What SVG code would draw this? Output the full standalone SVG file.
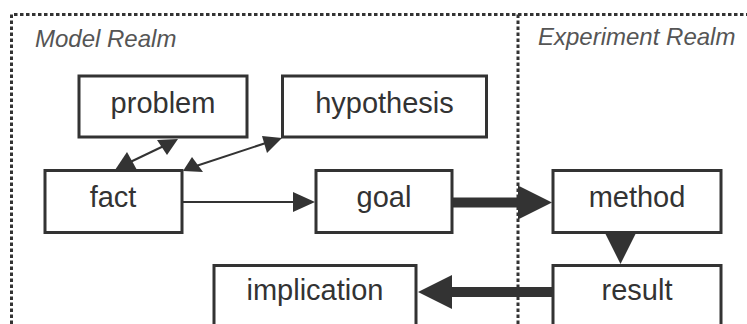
<svg xmlns="http://www.w3.org/2000/svg" width="747" height="324" viewBox="0 0 747 324">
<style>
.box{fill:#fff;stroke:#333;stroke-width:3}
.lbl{font-family:"Liberation Sans",Arial,sans-serif;font-size:29px;fill:#333;text-anchor:middle}
.realm{font-family:"Liberation Sans",Arial,sans-serif;font-size:24px;font-style:italic;fill:#555}
.div{stroke:#333;stroke-width:3;stroke-dasharray:3.5 2.5;fill:none}
.thin{stroke:#333;stroke-width:2;fill:none}
.thick{stroke:#333;stroke-width:10;fill:none}
.head{fill:#333}
</style>
<rect width="747" height="324" fill="#fff"/>
<g id="realms">
<path class="div" d="M11.5 324 V14.5 H747"/>
<path class="div" d="M518 14.5 V324"/>
<text class="realm" x="35" y="47">Model Realm</text>
<text class="realm" x="538" y="45">Experiment Realm</text>
</g>
<g id="connectors">
<line class="thin" x1="124" y1="165" x2="170" y2="143"/>
<polygon class="head" points="115,170 137,170 127,152"/>
<polygon class="head" points="178,139 157,140 167,155"/>
<line class="thin" x1="190" y1="168" x2="275" y2="140"/>
<polygon class="head" points="183,171 192,157 203,172"/>
<polygon class="head" points="282,138 262,136 267,153"/>
<line class="thin" x1="182" y1="202" x2="300" y2="202"/>
<polygon class="head" points="315,202 293,192 293,212"/>
<line class="thick" x1="452" y1="202.5" x2="522" y2="202.5"/>
<polygon class="head" points="552,202.5 518,185.5 518,219.5"/>
<polygon class="head" points="605,233 636,233 620.5,264"/>
<line class="thick" x1="553" y1="292" x2="448" y2="292"/>
<polygon class="head" points="418,292 452,275 452,309"/>
</g>
<g id="problem"><rect class="box" x="79" y="76" width="168" height="61"/><text class="lbl" x="163" y="113">problem</text></g>
<g id="hypothesis"><rect class="box" x="282.5" y="76" width="204" height="61"/><text class="lbl" x="384.5" y="113">hypothesis</text></g>
<g id="fact"><rect class="box" x="45" y="170.5" width="137" height="62"/><text class="lbl" x="113" y="207">fact</text></g>
<g id="goal"><rect class="box" x="316" y="170.5" width="136" height="62"/><text class="lbl" x="384" y="207">goal</text></g>
<g id="method"><rect class="box" x="553" y="170.5" width="168" height="62"/><text class="lbl" x="637" y="207">method</text></g>
<g id="result"><rect class="box" x="553" y="265.5" width="168" height="70"/><text class="lbl" x="637" y="300">result</text></g>
<g id="implication"><rect class="box" x="214" y="265.5" width="202" height="70"/><text class="lbl" x="315" y="300">implication</text></g>
</svg>
